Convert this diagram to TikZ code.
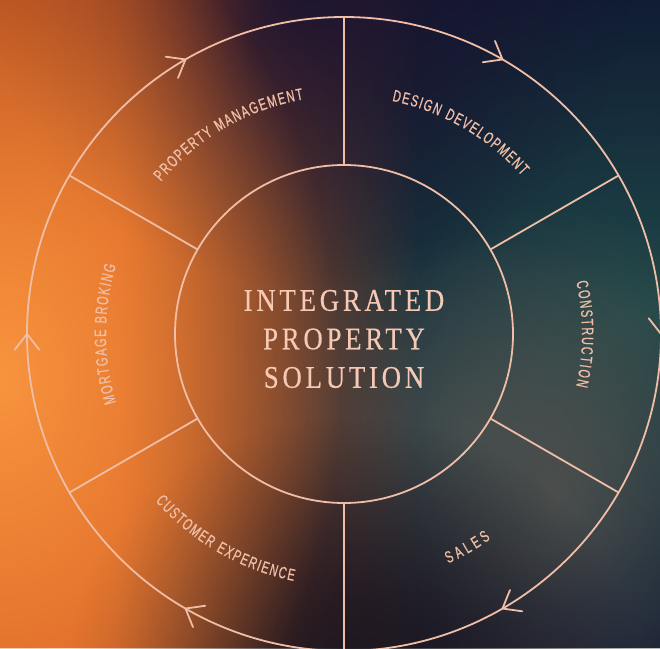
\documentclass[tikz,border=0pt]{standalone}
\usepackage{fontspec}
\newfontfamily\labelfont[FakeStretch=0.66,FakeBold=0.6]{Liberation Sans}
\newfontfamily\titlefont[FakeStretch=0.85,LetterSpace=12,FakeBold=0.4]{Liberation Serif}
\newcommand\lblfnt{\labelfont\fontsize{16.5}{16.5}\selectfont}
\usetikzlibrary{fadings,calc}
\definecolor{linec}{HTML}{F0BEA6}
\definecolor{titlec}{HTML}{F6C9B5}
\definecolor{bgnavy}{HTML}{0C0E2C}
\definecolor{tealc}{HTML}{204A4A}
\definecolor{grayteal}{HTML}{44504F}
\definecolor{warmgray}{HTML}{5E5852}
\definecolor{orangec}{HTML}{D45A20}
\definecolor{darktop}{HTML}{1C1530}
\definecolor{darkbot}{HTML}{1E1820}
\definecolor{cornerc}{HTML}{9A3A1A}
\definecolor{brightc}{HTML}{F8943E}
\tikzfading[name=fadeR, left color=transparent!0, right color=transparent!100]
\tikzfading[name=glow, inner color=transparent!0, outer color=transparent!100]
\newlength\chw
\newcommand\storew[1]{\settowidth{\chw}{\lblfnt #1}\expandafter\xdef\csname cw@#1\endcsname{\the\chw}}
\AtBeginDocument{%
  \foreach \c in {A,B,C,D,E,G,I,K,L,M,N,O,P,R,S,T,U,V,X,Y}{\storew{\c}}%
  \settowidth{\chw}{\lblfnt\ }\expandafter\xdef\csname cw@-\endcsname{\the\chw}}
\def\dashmark{-}
% #1 name, #2 centre angle, #3 baseline radius, #4 direction (1 clockwise, -1 counter), #5 spacing, #6 characters (- = space)
\newcommand\arclabel[6]{%
  \xdef\arctot{0}%
  \foreach \ch in {#6}{%
    \edef\w{\csname cw@\ch\endcsname}%
    \pgfmathsetmacro\tmp{\arctot+\w+#5}%
    \xdef\arctot{\tmp}}%
  \pgfmathsetmacro\arcL{\arctot-#5}%
  \xdef\arccur{0}%
  \foreach \ch [count=\i] in {#6}{%
    \edef\w{\csname cw@\ch\endcsname}%
    \pgfmathsetmacro\pos{\arccur+\w/2-\arcL/2}%
    \pgfmathsetmacro\ang{#2-(#4)*\pos/#3*180/pi}%
    \pgfmathsetmacro\rot{\ang-(#4)*90}%
    \ifx\ch\dashmark\else
      \node[lbltext, rotate=\rot, anchor=base] (#1\i) at ($(C)+(\ang:#3pt)$) {\ch};
    \fi
    \pgfmathsetmacro\tmp{\arccur+\w+#5}%
    \xdef\arccur{\tmp}}%
}
\begin{document}
\begin{tikzpicture}[x=1pt,y=1pt,
  ringline/.style={draw=linec, line width=1.8pt},
  ringnode/.style={circle, draw=linec, line width=1.8pt, inner sep=0pt, outer sep=0pt},
  chevron/.style={draw=linec, line width=1.8pt, line cap=round, line join=miter},
  lbltext/.style={text=linec, inner sep=0pt, outer sep=0pt, font=\lblfnt},
  titleS/.style={text=titlec, align=center, inner sep=0pt, font=\titlefont\fontsize{31.5}{38.5}\selectfont}]
\useasboundingbox (0,0) rectangle (660,648);
\begin{scope}
\clip (0,0) rectangle (660,648);
\fill[bgnavy] (0,0) rectangle (660,648);
\fill[tealc, path fading=glow] (640,330) ellipse [x radius=560pt, y radius=420pt];
\fill[grayteal, path fading=glow, opacity=.75] (470,218) ellipse [x radius=240pt, y radius=200pt];
\fill[warmgray, path fading=glow, opacity=.65] (555,150) ellipse [x radius=220pt, y radius=300pt];
\fill[orangec] (0,0) rectangle (120,648);
\fill[orangec, path fading=fadeR] (120,0) rectangle (420,648);
\fill[darktop, path fading=glow] (310,660) ellipse [x radius=320pt, y radius=300pt];
\fill[darkbot, path fading=glow] (350,-10) ellipse [x radius=280pt, y radius=240pt];
\fill[cornerc, path fading=glow, opacity=.7] (0,648) ellipse [x radius=260pt, y radius=260pt];
\fill[brightc, path fading=glow] (0,270) ellipse [x radius=340pt, y radius=500pt];
\end{scope}
\coordinate (C) at (344,314);
\node[ringnode, minimum size=634pt] (outer) at (C) {};
\node[ringnode, minimum size=338pt] (inner) at (C) {};
\foreach \a in {90,30,330,270,150,210}
  \draw[ringline] (inner.\a) -- (outer.\a);
\foreach \a in {120,60,0,300,240,180}
  \draw[chevron] ($(outer.\a)+(\a+52:20pt)$) -- (outer.\a) -- ($(outer.\a)+(\a+128:20pt)$);
\node[titleS] (title) at (344,309) {INTEGRATED\\PROPERTY\\SOLUTION};
\arclabel{pm}{120}{238}{1}{1.5}{P,R,O,P,E,R,T,Y,-,M,A,N,A,G,E,M,E,N,T}
\arclabel{dd}{60}{238}{1}{1.5}{D,E,S,I,G,N,-,D,E,V,E,L,O,P,M,E,N,T}
\arclabel{co}{0}{238}{1}{1.6}{C,O,N,S,T,R,U,C,T,I,O,N}
\arclabel{mb}{180}{238}{1}{1.5}{M,O,R,T,G,A,G,E,-,B,R,O,K,I,N,G}
\arclabel{sa}{-60}{252}{-1}{3.5}{S,A,L,E,S}
\arclabel{ce}{-120}{252}{-1}{1.5}{C,U,S,T,O,M,E,R,-,E,X,P,E,R,I,E,N,C,E}
\end{tikzpicture}
\end{document}
